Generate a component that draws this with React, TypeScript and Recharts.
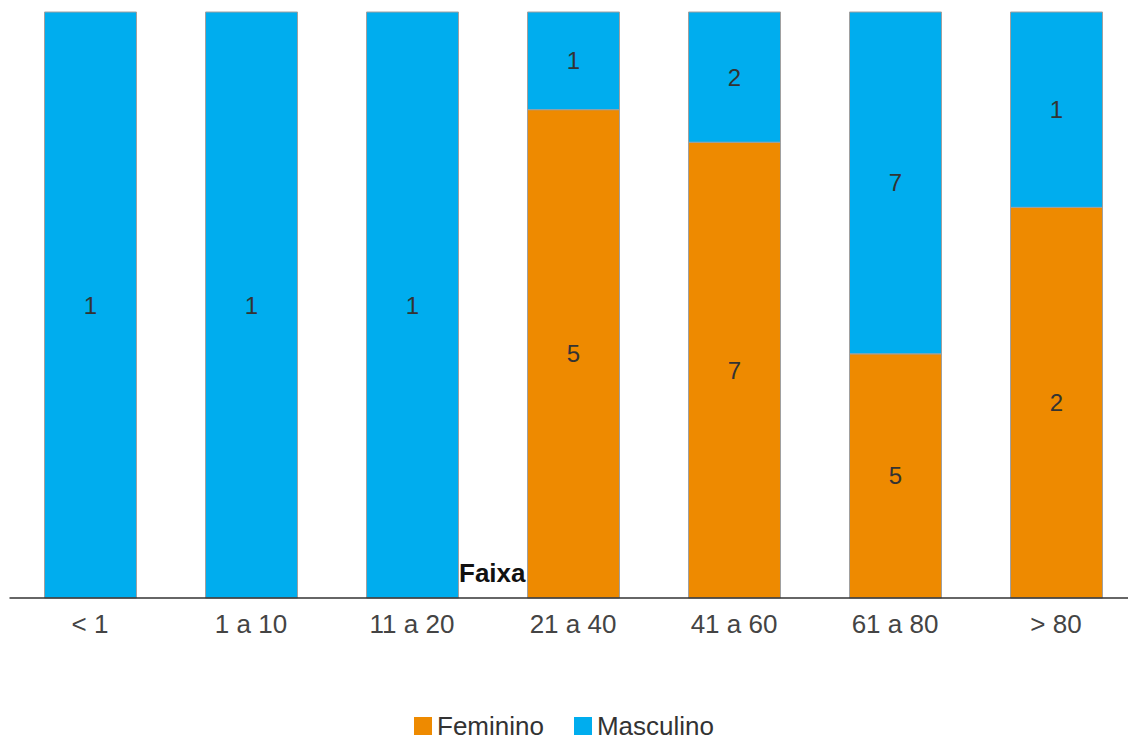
import { BarChart, Bar, XAxis, YAxis, LabelList } from "recharts"

const faixas = ["< 1", "1 a 10", "11 a 20", "21 a 40", "41 a 60", "61 a 80", "> 80"]
const feminino = [0, 0, 0, 5, 7, 5, 2]
const masculino = [1, 1, 1, 1, 2, 7, 1]

const ORANGE = "#EE8A00"
const BLUE = "#00ADEE"
const FONT = "'Liberation Sans', Arial, sans-serif"

const data = faixas.map((faixa, i) => ({
  faixa,
  Feminino: feminino[i],
  Masculino: masculino[i],
}))

const hideZero = (v: unknown) => (Number(v) === 0 ? "" : String(v))

const legendItems = [
  { name: "Feminino", color: ORANGE },
  { name: "Masculino", color: BLUE },
]

export default function App() {
  return (
    <div
      style={{
        position: "fixed",
        left: 0,
        top: 0,
        width: 1128,
        height: 741,
        overflow: "hidden",
        background: "#fff",
        fontFamily: FONT,
      }}
    >
      <BarChart
        width={1140}
        height={741}
        data={data}
        stackOffset="expand"
        margin={{ top: 12, left: 9.5, right: 3.5, bottom: 103 }}
      >
        <XAxis
          dataKey="faixa"
          height={40}
          tickLine={false}
          tickSize={0}
          tickMargin={17}
          axisLine={{ stroke: "#333", strokeWidth: 1.5 }}
          tick={{ fontSize: 26, fill: "#444", fontFamily: FONT }}
        />
        <YAxis hide domain={[0, 1]} />
        <Bar
          dataKey="Feminino"
          stackId="a"
          fill={ORANGE}
          stroke="#a0a0a0"
          strokeWidth={1}
          barSize={92}
          isAnimationActive={false}
        >
          <LabelList
            dataKey="Feminino"
            position="center"
            formatter={hideZero}
            style={{ fontSize: 24, fill: "#333", fontFamily: FONT }}
          />
        </Bar>
        <Bar
          dataKey="Masculino"
          stackId="a"
          fill={BLUE}
          stroke="#a0a0a0"
          strokeWidth={1}
          barSize={92}
          isAnimationActive={false}
        >
          <LabelList
            dataKey="Masculino"
            position="center"
            formatter={hideZero}
            style={{ fontSize: 24, fill: "#333", fontFamily: FONT }}
          />
        </Bar>
      </BarChart>

      {/* axis title */}
      <div
        style={{
          position: "absolute",
          left: 459,
          top: 558,
          fontSize: 26,
          fontWeight: "bold",
          color: "#111",
          lineHeight: "30px",
        }}
      >
        Faixa
      </div>

      <div
        style={{
          position: "absolute",
          left: 0,
          top: 712,
          width: 1128,
          display: "flex",
          justifyContent: "center",
          gap: 30,
          fontSize: 26,
          color: "#333",
          lineHeight: "28px",
        }}
      >
        {legendItems.map((item) => (
          <div key={item.name} style={{ display: "flex", alignItems: "center", gap: 5 }}>
            <span style={{ width: 18, height: 18, background: item.color, display: "inline-block" }} />
            <span>{item.name}</span>
          </div>
        ))}
      </div>
    </div>
  )
}
